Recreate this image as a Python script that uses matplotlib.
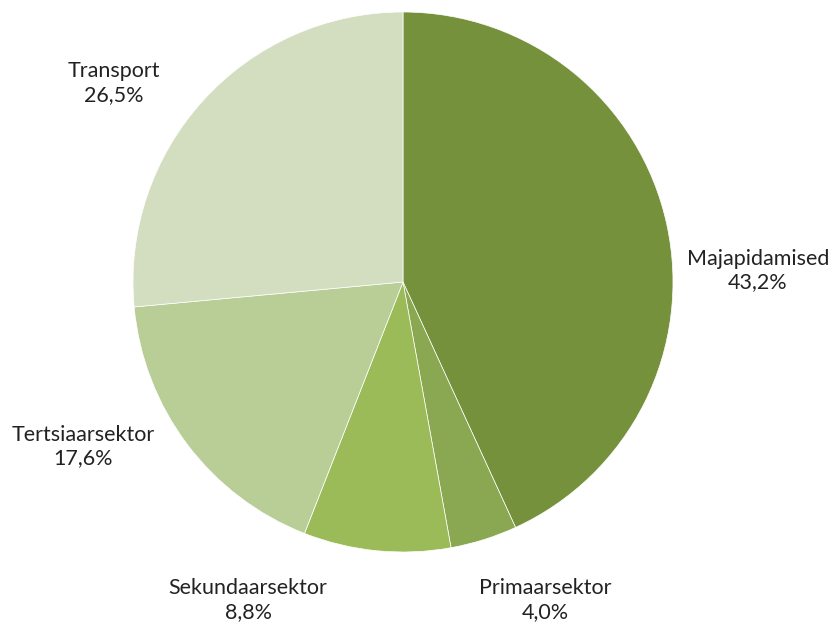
import matplotlib
matplotlib.use("Agg")
import matplotlib.pyplot as plt

# sector shares (%), clockwise from 12 o'clock
sectors = ["Majapidamised", "Primaarsektor", "Sekundaarsektor", "Tertsiaarsektor", "Transport"]
shares = [43.2, 4.0, 8.8, 17.6, 26.5]
share_text = ["43,2%", "4,0%", "8,8%", "17,6%", "26,5%"]
colors = ["#76913C", "#8AA752", "#9BBB59", "#B9CD96", "#D3DEC0"]

# label centres in pie-radius units
label_pos = [(1.315, 0.044), (0.526, -1.178), (-0.574, -1.178), (-1.185, -0.611), (-1.07, 0.737)]

plt.rcParams['font.family'] = ['Lato', 'DejaVu Sans']

fig = plt.figure(figsize=(8.36, 6.28), dpi=100)
ax = fig.add_axes([0, 0, 1, 1])
r = 270.0
cx, cy = 403.0, 282.0
ax.pie(shares, colors=colors, startangle=90, counterclock=False,
       wedgeprops=dict(edgecolor="white", linewidth=0.5))
ax.set_xlim(-cx / r, (836 - cx) / r)
ax.set_ylim(-(628 - cy) / r, cy / r)
ax.set_aspect("equal")
ax.axis("off")

for name, txt, (x, y) in zip(sectors, share_text, label_pos):
    ax.text(x, y, name + "\n" + txt, ha="center", va="center",
            fontsize=15.5, color="#222222", linespacing=1.2)

fig.savefig("out.png", dpi=100)
